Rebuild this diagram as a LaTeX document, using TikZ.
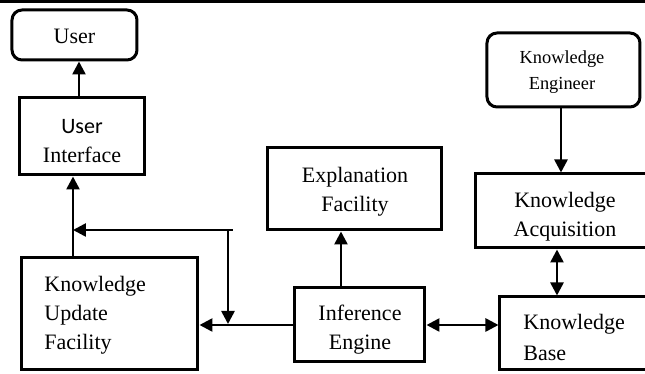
\documentclass[tikz,border=0pt]{standalone}
\usepackage{fontspec}
\setmainfont{Liberation Serif}
\newfontfamily\calib{Carlito}
\usetikzlibrary{arrows.meta}
\tikzset{
  box/.style={draw, line width=1.5pt, inner sep=0pt},
  rbox/.style={box, rounded corners=5pt},
  txt/.style={inner sep=0pt, align=center, font=\fontsize{11}{14.5}\selectfont},
  ltxt/.style={txt, align=left, anchor=west},
  arr/.style={line width=1.3pt, -{Triangle[length=6.5pt,width=6.5pt]}},
  darr/.style={line width=1.3pt, {Triangle[length=6.5pt,width=6.5pt]}-{Triangle[length=6.5pt,width=6.5pt]}}
}
\begin{document}
\begin{tikzpicture}[x=0.5pt,y=-0.5pt]
\useasboundingbox (0,0) rectangle (645,374);
\fill[white] (0,0) rectangle (645,374);
\path (0,0) coordinate (tl) (645,0) coordinate (tr);
\draw[line width=1.6pt] ([yshift=-0.8pt]tl) -- ([yshift=-0.8pt]tr);

% boxes
\node[rbox, minimum width=62.5pt, minimum height=25pt] (user) at (74.5,35) {};
\node[box, minimum width=62.5pt, minimum height=38.5pt] (ui) at (82.5,136.5) {};
\node[box, minimum width=88pt, minimum height=56pt] (kuf) at (110,314) {};
\node[box, minimum width=87pt, minimum height=41pt] (ef) at (355,189) {};
\node[box, minimum width=65pt, minimum height=37pt] (ie) at (360,325) {};
\node[rbox, minimum width=76.5pt, minimum height=37pt] (ke) at (563.5,70) {};
\node[box, minimum width=89pt, minimum height=37pt] (ka) at (565,211) {};
\node[box, minimum width=80pt, minimum height=36.5pt] (kb) at (580,333.5) {};

% texts
\node[txt] (user-t) at (74.5,36) {User};
\node[txt] (ui-t) at (82,141) {{\calib User}\\Interface};
\node[ltxt] (kuf-t) at (44,315) {Knowledge\\Update\\Facility};
\node[txt] (ef-t) at (355,191.5) {Explanation\\Facility};
\node[txt] (ie-t) at (360,330) {Inference\\Engine};
\node[txt, font=\fontsize{9.2}{13}\selectfont] (ke-t) at (562,72.5) {Knowledge\\Engineer};
\node[txt] (ka-t) at (565,216.5) {Knowledge\\Acquisition};
\node[ltxt] (kb-t) at (523,337.5) {Knowledge\\[1pt]Base};

% connectors
\path (79,0) coordinate (c1) (73,0) coordinate (c2) (341,0) coordinate (c3)
      (561,0) coordinate (c4) (557,0) coordinate (c5)
      (233,230) coordinate (j1) (228,230) coordinate (j2) (228,324) coordinate (j3);

\draw[arr] (ui.north -| c1) -- (user.south -| c1);
\draw[arr] (kuf.north -| c2) -- (ui.south -| c2);
\draw[arr] (j1) -- (j1 -| c2);
\draw[arr] (j2) -- (j3);
\draw[arr] (ie.west) -- (ie.west -| kuf.east);
\draw[arr] (ie.north -| c3) -- (ef.south -| c3);
\draw[darr] (ie.east) -- (ie.east -| kb.west);
\draw[arr] (ke.south -| c4) -- (ka.north -| c4);
\draw[darr] (ka.south -| c5) -- (kb.north -| c5);
\end{tikzpicture}
\end{document}
